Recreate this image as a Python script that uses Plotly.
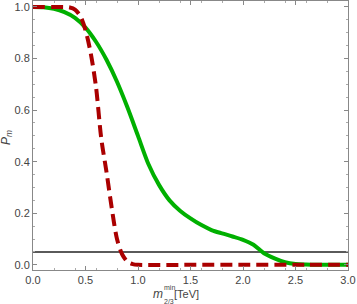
import plotly.graph_objects as go

# Green solid curve
green_x = [0, 0.1, 0.2, 0.3, 0.4, 0.5, 0.6, 0.7, 0.8, 0.9, 1.0, 1.1, 1.2, 1.3, 1.4,
           1.5, 1.6, 1.7, 1.8, 1.9, 2.0, 2.1, 2.2, 2.3, 2.4, 2.5, 2.6, 2.7, 2.8, 2.9, 3.0]
green_y = [1.0, 0.999, 0.993, 0.98, 0.958, 0.92, 0.865, 0.795, 0.71, 0.61, 0.50, 0.39,
           0.31, 0.25, 0.21, 0.18, 0.155, 0.135, 0.122, 0.11, 0.097, 0.078, 0.045,
           0.025, 0.01, 0.003, 0.001, 0, 0, 0, 0]

# Red dashed curve
red_x = [0, 0.1, 0.2, 0.3, 0.35, 0.4, 0.45, 0.5, 0.55, 0.6, 0.65, 0.7, 0.75, 0.8,
         0.85, 0.9, 0.95, 1.0, 1.5, 2.0, 2.5, 3.0]
red_y = [1, 1, 1, 1, 0.998, 0.99, 0.965, 0.91, 0.82, 0.69, 0.49, 0.36, 0.22, 0.1,
         0.04, 0.012, 0.003, 0, 0, 0, 0, 0]

threshold = 0.05
x_range = [0, 3.0]

x_ticks = [0.0, 0.5, 1.0, 1.5, 2.0, 2.5, 3.0]
y_ticks = [0.0, 0.2, 0.4, 0.6, 0.8, 1.0]

fig = go.Figure()
fig.add_trace(go.Scatter(x=x_range, y=[threshold, threshold], mode="lines",
                         line=dict(color="#5a5a5a", width=2), showlegend=False))
fig.add_trace(go.Scatter(x=green_x, y=green_y, mode="lines",
                         line=dict(color="#00b000", width=4, shape="spline", smoothing=0.8),
                         showlegend=False))
fig.add_trace(go.Scatter(x=red_x, y=red_y, mode="lines",
                         line=dict(color="#aa0000", width=4, dash="12px,6px",
                                   shape="spline", smoothing=0.8),
                         showlegend=False))

FAM = "Liberation Sans, Arial, sans-serif"
font = dict(family=FAM, size=11, color="#444444")
axis_common = dict(showgrid=False, zeroline=False, showline=True, linecolor="#888888",
                   linewidth=1, mirror="ticks", ticks="inside", ticklen=4,
                   tickcolor="#888888", tickfont=font, automargin=False,
                   minor=dict(ticks="inside", ticklen=2, tickcolor="#aaaaaa", nticks=5))

fig.update_layout(
    width=357, height=304,
    margin=dict(l=33, r=9, t=1, b=34),
    plot_bgcolor="white", paper_bgcolor="white",
    xaxis=dict(range=x_range, tickvals=x_ticks,
               ticktext=[f"{v:.1f}" for v in x_ticks], **axis_common),
    yaxis=dict(range=[-0.02, 1.023], tickvals=y_ticks,
               ticktext=[f"{v:.1f}" for v in y_ticks], **axis_common),
)

big = dict(family=FAM, size=12, color="#444444")
mid = dict(family=FAM, size=11, color="#444444")
small = dict(family=FAM, size=7, color="#444444")
annots = [
    dict(text="<i>m</i>", x=0.398, y=-0.089, font=big, xanchor="center"),
    dict(text="min", x=0.413, y=-0.066, font=small, xanchor="left"),
    dict(text="2/3", x=0.413, y=-0.116, font=small, xanchor="left"),
    dict(text="[TeV]", x=0.446, y=-0.089, font=mid, xanchor="left"),
    dict(text="<i>P</i><sub><i>m</i></sub>", x=-0.083, y=0.494, font=big,
         xanchor="center", textangle=-90),
]
for a in annots:
    fig.add_annotation(xref="paper", yref="paper", showarrow=False, borderpad=0,
                       yanchor="middle", **a)

fig.write_html("out.html", config={"displayModeBar": False},
               post_script="document.body.style.margin='0';document.body.style.overflow='hidden';")
